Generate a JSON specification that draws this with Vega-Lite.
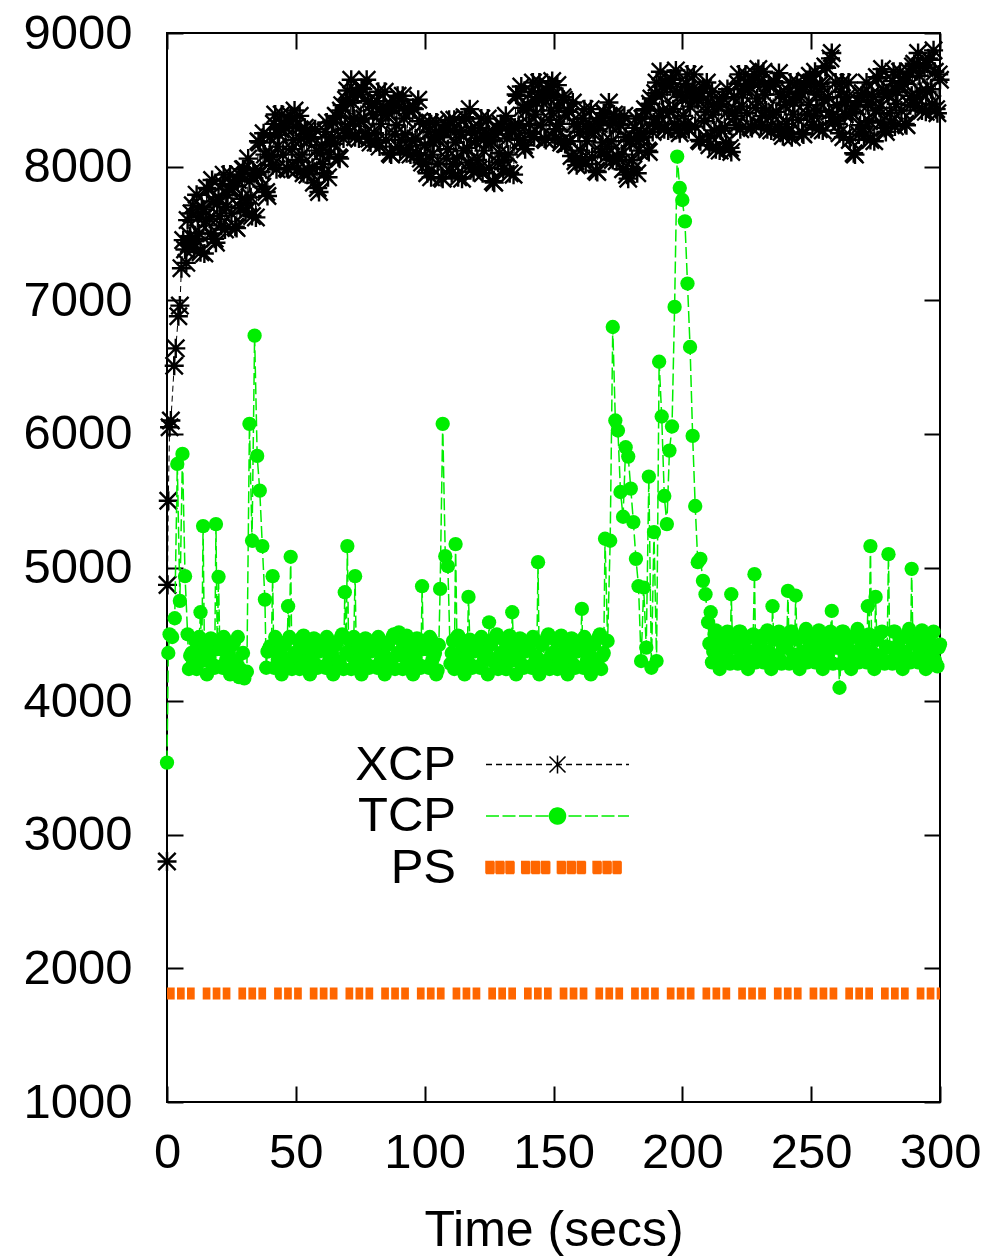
{
 "$schema": "https://vega.github.io/schema/vega-lite/v6.json",
 "width": 773,
 "height": 1069,
 "autosize": "none",
 "padding": {"left": 167, "top": 33, "right": 64, "bottom": 155},
 "background": "white",
 "config": {
  "font": "Liberation Sans",
  "view": {"stroke": "#000000", "strokeWidth": 2},
  "axis": {"grid": false, "domain": false, "ticks": true, "tickColor": "#000000", "tickWidth": 2, "tickSize": -16, "labelColor": "#000000", "labelFontSize": 49, "labelFont": "Liberation Sans", "labelFlush": false, "format": "d", "titleFont": "Liberation Sans", "titleFontSize": 50, "titleFontWeight": "normal", "titleColor": "#000000"},
  "legend": {"orient": "none", "legendX": 366, "legendY": 707, "labelFontSize": 49, "labelFont": "Liberation Sans", "labelColor": "#000000", "labelAlign": "right", "labelOffset": -126, "symbolSize": 400, "rowPadding": 1.5, "padding": 0}
 },
 "datasets": {
  "ps": [{"t": 0, "v": 1812}, {"t": 300, "v": 1812}],
  "xcp": [
   {"t":0,"v":2800},{"t":0.2,"v":4870},{"t":0.5,"v":5500},{"t":1,"v":6050},{"t":1.5,"v":6100},{"t":2.8,"v":6510},{"t":3.4,"v":6640},{"t":4.4,"v":6880},{"t":5,"v":6960},{"t":5.6,"v":7240},{"t":6.3,"v":7450},{"t":7,"v":7380},{"t":7.5,"v":7280},{"t":8,"v":7600},{"t":8.5,"v":7420},{"t":9,"v":7480},{"t":9.5,"v":7650},
   {"t":10,"v":7710},{"t":11,"v":7460},{"t":12,"v":7620},{"t":13,"v":7360},{"t":14,"v":7680},
   {"t":15,"v":7590},{"t":16,"v":7830},{"t":17,"v":7500},{"t":18,"v":7740},{"t":19,"v":7430},
   {"t":20,"v":7770},{"t":21,"v":7560},{"t":22,"v":7940},{"t":23,"v":7700},{"t":24,"v":7830},
   {"t":25,"v":7650},{"t":26,"v":7850},{"t":27,"v":7540},{"t":28,"v":7940},{"t":29,"v":7760},
   {"t":30,"v":7980},{"t":31,"v":7730},{"t":32,"v":7890},{"t":33,"v":7630},{"t":34,"v":7950},
   {"t":35,"v":7940},{"t":36,"v":8180},{"t":37,"v":7850},{"t":38,"v":8090},{"t":39,"v":7780},
   {"t":40,"v":8220},{"t":41,"v":8010},{"t":42,"v":8390},{"t":43,"v":8150},{"t":44,"v":8280},
   {"t":45,"v":8090},{"t":46,"v":8290},{"t":47,"v":7980},{"t":48,"v":8380},{"t":49,"v":8200},
   {"t":50,"v":8300},{"t":51,"v":8050},{"t":52,"v":8210},{"t":53,"v":7950},{"t":54,"v":8270},
   {"t":55,"v":7970},{"t":56,"v":8210},{"t":57,"v":7880},{"t":58,"v":8120},{"t":59,"v":7810},
   {"t":60,"v":8160},{"t":61,"v":7950},{"t":62,"v":8330},{"t":63,"v":8090},{"t":64,"v":8220},
   {"t":65,"v":8170},{"t":66,"v":8370},{"t":67,"v":8060},{"t":68,"v":8460},{"t":69,"v":8280},
   {"t":70,"v":8570},{"t":71,"v":8320},{"t":72,"v":8480},{"t":73,"v":8220},{"t":74,"v":8540},
   {"t":75,"v":8340},{"t":76,"v":8580},{"t":77,"v":8250},{"t":78,"v":8490},{"t":79,"v":8180},
   {"t":80,"v":8390},{"t":81,"v":8180},{"t":82,"v":8560},{"t":83,"v":8320},{"t":84,"v":8450},
   {"t":85,"v":8200},{"t":86,"v":8400},{"t":87,"v":8090},{"t":88,"v":8490},{"t":89,"v":8310},
   {"t":90,"v":8450},{"t":91,"v":8200},{"t":92,"v":8360},{"t":93,"v":8100},{"t":94,"v":8420},
   {"t":95,"v":8190},{"t":96,"v":8430},{"t":97,"v":8100},{"t":98,"v":8340},{"t":99,"v":8030},
   {"t":100,"v":8160},{"t":101,"v":7950},{"t":102,"v":8330},{"t":103,"v":8090},{"t":104,"v":8220},
   {"t":105,"v":8020},{"t":106,"v":8220},{"t":107,"v":7910},{"t":108,"v":8310},{"t":109,"v":8130},
   {"t":110,"v":8270},{"t":111,"v":8020},{"t":112,"v":8180},{"t":113,"v":7920},{"t":114,"v":8240},
   {"t":115,"v":8120},{"t":116,"v":8360},{"t":117,"v":8030},{"t":118,"v":8270},{"t":119,"v":7960},
   {"t":120,"v":8190},{"t":121,"v":7980},{"t":122,"v":8360},{"t":123,"v":8120},{"t":124,"v":8250},
   {"t":125,"v":7990},{"t":126,"v":8190},{"t":127,"v":7880},{"t":128,"v":8280},{"t":129,"v":8100},
   {"t":130,"v":8300},{"t":131,"v":8050},{"t":132,"v":8210},{"t":133,"v":7950},{"t":134,"v":8270},
   {"t":135,"v":8290},{"t":136,"v":8530},{"t":137,"v":8200},{"t":138,"v":8440},{"t":139,"v":8130},
   {"t":140,"v":8460},{"t":141,"v":8250},{"t":142,"v":8630},{"t":143,"v":8390},{"t":144,"v":8520},
   {"t":145,"v":8310},{"t":146,"v":8510},{"t":147,"v":8200},{"t":148,"v":8600},{"t":149,"v":8420},
   {"t":150,"v":8530},{"t":151,"v":8280},{"t":152,"v":8440},{"t":153,"v":8180},{"t":154,"v":8500},
   {"t":155,"v":8170},{"t":156,"v":8410},{"t":157,"v":8080},{"t":158,"v":8320},{"t":159,"v":8010},
   {"t":160,"v":8260},{"t":161,"v":8050},{"t":162,"v":8430},{"t":163,"v":8190},{"t":164,"v":8320},
   {"t":165,"v":8070},{"t":166,"v":8270},{"t":167,"v":7960},{"t":168,"v":8360},{"t":169,"v":8180},
   {"t":170,"v":8400},{"t":171,"v":8150},{"t":172,"v":8310},{"t":173,"v":8050},{"t":174,"v":8370},
   {"t":175,"v":8070},{"t":176,"v":8310},{"t":177,"v":7980},{"t":178,"v":8220},{"t":179,"v":7910},
   {"t":180,"v":8190},{"t":181,"v":7980},{"t":182,"v":8360},{"t":183,"v":8120},{"t":184,"v":8250},
   {"t":185,"v":8220},{"t":186,"v":8420},{"t":187,"v":8110},{"t":188,"v":8510},{"t":189,"v":8330},
   {"t":190,"v":8630},{"t":191,"v":8380},{"t":192,"v":8540},{"t":193,"v":8280},{"t":194,"v":8600},
   {"t":195,"v":8410},{"t":196,"v":8650},{"t":197,"v":8320},{"t":198,"v":8560},{"t":199,"v":8250},
   {"t":200,"v":8520},{"t":201,"v":8310},{"t":202,"v":8690},{"t":203,"v":8450},{"t":204,"v":8580},
   {"t":205,"v":8300},{"t":206,"v":8500},{"t":207,"v":8190},{"t":208,"v":8590},{"t":209,"v":8410},
   {"t":210,"v":8480},{"t":211,"v":8230},{"t":212,"v":8390},{"t":213,"v":8130},{"t":214,"v":8450},
   {"t":215,"v":8270},{"t":216,"v":8510},{"t":217,"v":8180},{"t":218,"v":8420},{"t":219,"v":8110},
   {"t":220,"v":8520},{"t":221,"v":8310},{"t":222,"v":8690},{"t":223,"v":8450},{"t":224,"v":8580},
   {"t":225,"v":8400},{"t":226,"v":8600},{"t":227,"v":8290},{"t":228,"v":8690},{"t":229,"v":8510},
   {"t":230,"v":8630},{"t":231,"v":8380},{"t":232,"v":8540},{"t":233,"v":8280},{"t":234,"v":8600},
   {"t":235,"v":8390},{"t":236,"v":8630},{"t":237,"v":8300},{"t":238,"v":8540},{"t":239,"v":8230},
   {"t":240,"v":8460},{"t":241,"v":8250},{"t":242,"v":8630},{"t":243,"v":8390},{"t":244,"v":8520},
   {"t":245,"v":8350},{"t":246,"v":8550},{"t":247,"v":8240},{"t":248,"v":8640},{"t":249,"v":8460},
   {"t":250,"v":8630},{"t":251,"v":8380},{"t":252,"v":8540},{"t":253,"v":8280},{"t":254,"v":8600},
   {"t":255,"v":8500},{"t":256,"v":8740},{"t":257,"v":8410},{"t":258,"v":8850},{"t":259,"v":8340},
   {"t":260,"v":8460},{"t":261,"v":8250},{"t":262,"v":8630},{"t":263,"v":8390},{"t":264,"v":8520},
   {"t":265,"v":8200},{"t":266,"v":8400},{"t":267,"v":8090},{"t":268,"v":8490},{"t":269,"v":8310},
   {"t":270,"v":8550},{"t":271,"v":8300},{"t":272,"v":8460},{"t":273,"v":8200},{"t":274,"v":8520},
   {"t":275,"v":8420},{"t":276,"v":8660},{"t":277,"v":8330},{"t":278,"v":8570},{"t":279,"v":8260},
   {"t":280,"v":8540},{"t":281,"v":8330},{"t":282,"v":8710},{"t":283,"v":8470},{"t":284,"v":8600},
   {"t":285,"v":8420},{"t":286,"v":8620},{"t":287,"v":8310},{"t":288,"v":8710},{"t":289,"v":8530},
   {"t":290,"v":8770},{"t":291,"v":8520},{"t":292,"v":8680},{"t":293,"v":8420},{"t":294,"v":8740},
   {"t":295,"v":8560},{"t":296,"v":8800},{"t":297,"v":8470},{"t":298,"v":8710},{"t":299,"v":8400},{"t":300,"v":8650},
   {"t":10.5,"v":7390},{"t":11.5,"v":7790},{"t":12.5,"v":7500},{"t":13.5,"v":7700},{"t":14.5,"v":7350},
   {"t":15.5,"v":7840},{"t":16.5,"v":7610},{"t":17.5,"v":7900},{"t":18.5,"v":7460},{"t":19.5,"v":7720},
   {"t":20.5,"v":7630},{"t":21.5,"v":7870},{"t":22.5,"v":7530},{"t":23.5,"v":7790},{"t":24.5,"v":7940},
   {"t":25.5,"v":7860},{"t":26.5,"v":7550},{"t":27.5,"v":7900},{"t":28.5,"v":7690},{"t":29.5,"v":7980},
   {"t":30.5,"v":7660},{"t":31.5,"v":8060},{"t":32.5,"v":7770},{"t":33.5,"v":7970},{"t":34.5,"v":7620},
   {"t":35.5,"v":8190},{"t":36.5,"v":7960},{"t":37.5,"v":8250},{"t":38.5,"v":7810},{"t":39.5,"v":8070},
   {"t":40.5,"v":8080},{"t":41.5,"v":8320},{"t":42.5,"v":7980},{"t":43.5,"v":8240},{"t":44.5,"v":8390},
   {"t":45.5,"v":8300},{"t":46.5,"v":7990},{"t":47.5,"v":8340},{"t":48.5,"v":8130},{"t":49.5,"v":8420},
   {"t":50.5,"v":7980},{"t":51.5,"v":8380},{"t":52.5,"v":8090},{"t":53.5,"v":8290},{"t":54.5,"v":7940},
   {"t":55.5,"v":8220},{"t":56.5,"v":7990},{"t":57.5,"v":8280},{"t":58.5,"v":7840},{"t":59.5,"v":8100},
   {"t":60.5,"v":8020},{"t":61.5,"v":8260},{"t":62.5,"v":7920},{"t":63.5,"v":8180},{"t":64.5,"v":8330},
   {"t":65.5,"v":8380},{"t":66.5,"v":8070},{"t":67.5,"v":8420},{"t":68.5,"v":8210},{"t":69.5,"v":8500},
   {"t":70.5,"v":8250},{"t":71.5,"v":8650},{"t":72.5,"v":8360},{"t":73.5,"v":8560},{"t":74.5,"v":8210},
   {"t":75.5,"v":8590},{"t":76.5,"v":8360},{"t":77.5,"v":8650},{"t":78.5,"v":8210},{"t":79.5,"v":8470},
   {"t":80.5,"v":8250},{"t":81.5,"v":8490},{"t":82.5,"v":8150},{"t":83.5,"v":8410},{"t":84.5,"v":8560},
   {"t":85.5,"v":8410},{"t":86.5,"v":8100},{"t":87.5,"v":8450},{"t":88.5,"v":8240},{"t":89.5,"v":8530},
   {"t":90.5,"v":8130},{"t":91.5,"v":8530},{"t":92.5,"v":8240},{"t":93.5,"v":8440},{"t":94.5,"v":8090},
   {"t":95.5,"v":8440},{"t":96.5,"v":8210},{"t":97.5,"v":8500},{"t":98.5,"v":8060},{"t":99.5,"v":8320},
   {"t":100.5,"v":8020},{"t":101.5,"v":8260},{"t":102.5,"v":7920},{"t":103.5,"v":8180},{"t":104.5,"v":8330},
   {"t":105.5,"v":8230},{"t":106.5,"v":7920},{"t":107.5,"v":8270},{"t":108.5,"v":8060},{"t":109.5,"v":8350},
   {"t":110.5,"v":7950},{"t":111.5,"v":8350},{"t":112.5,"v":8060},{"t":113.5,"v":8260},{"t":114.5,"v":7910},
   {"t":115.5,"v":8370},{"t":116.5,"v":8140},{"t":117.5,"v":8430},{"t":118.5,"v":7990},{"t":119.5,"v":8250},
   {"t":120.5,"v":8050},{"t":121.5,"v":8290},{"t":122.5,"v":7950},{"t":123.5,"v":8210},{"t":124.5,"v":8360},
   {"t":125.5,"v":8200},{"t":126.5,"v":7890},{"t":127.5,"v":8240},{"t":128.5,"v":8030},{"t":129.5,"v":8320},
   {"t":130.5,"v":7980},{"t":131.5,"v":8380},{"t":132.5,"v":8090},{"t":133.5,"v":8290},{"t":134.5,"v":7940},
   {"t":135.5,"v":8540},{"t":136.5,"v":8310},{"t":137.5,"v":8600},{"t":138.5,"v":8160},{"t":139.5,"v":8420},
   {"t":140.5,"v":8320},{"t":141.5,"v":8560},{"t":142.5,"v":8220},{"t":143.5,"v":8480},{"t":144.5,"v":8630},
   {"t":145.5,"v":8520},{"t":146.5,"v":8210},{"t":147.5,"v":8560},{"t":148.5,"v":8350},{"t":149.5,"v":8640},
   {"t":150.5,"v":8210},{"t":151.5,"v":8610},{"t":152.5,"v":8320},{"t":153.5,"v":8520},{"t":154.5,"v":8170},
   {"t":155.5,"v":8420},{"t":156.5,"v":8190},{"t":157.5,"v":8480},{"t":158.5,"v":8040},{"t":159.5,"v":8300},
   {"t":160.5,"v":8120},{"t":161.5,"v":8360},{"t":162.5,"v":8020},{"t":163.5,"v":8280},{"t":164.5,"v":8430},
   {"t":165.5,"v":8280},{"t":166.5,"v":7970},{"t":167.5,"v":8320},{"t":168.5,"v":8110},{"t":169.5,"v":8400},
   {"t":170.5,"v":8080},{"t":171.5,"v":8480},{"t":172.5,"v":8190},{"t":173.5,"v":8390},{"t":174.5,"v":8040},
   {"t":175.5,"v":8320},{"t":176.5,"v":8090},{"t":177.5,"v":8380},{"t":178.5,"v":7940},{"t":179.5,"v":8200},
   {"t":180.5,"v":8050},{"t":181.5,"v":8290},{"t":182.5,"v":7950},{"t":183.5,"v":8210},{"t":184.5,"v":8360},
   {"t":185.5,"v":8430},{"t":186.5,"v":8120},{"t":187.5,"v":8470},{"t":188.5,"v":8260},{"t":189.5,"v":8550},
   {"t":190.5,"v":8310},{"t":191.5,"v":8710},{"t":192.5,"v":8420},{"t":193.5,"v":8620},{"t":194.5,"v":8270},
   {"t":195.5,"v":8660},{"t":196.5,"v":8430},{"t":197.5,"v":8720},{"t":198.5,"v":8280},{"t":199.5,"v":8540},
   {"t":200.5,"v":8380},{"t":201.5,"v":8620},{"t":202.5,"v":8280},{"t":203.5,"v":8540},{"t":204.5,"v":8690},
   {"t":205.5,"v":8510},{"t":206.5,"v":8200},{"t":207.5,"v":8550},{"t":208.5,"v":8340},{"t":209.5,"v":8630},
   {"t":210.5,"v":8160},{"t":211.5,"v":8560},{"t":212.5,"v":8270},{"t":213.5,"v":8470},{"t":214.5,"v":8120},
   {"t":215.5,"v":8520},{"t":216.5,"v":8290},{"t":217.5,"v":8580},{"t":218.5,"v":8140},{"t":219.5,"v":8400},
   {"t":220.5,"v":8380},{"t":221.5,"v":8620},{"t":222.5,"v":8280},{"t":223.5,"v":8540},{"t":224.5,"v":8690},
   {"t":225.5,"v":8610},{"t":226.5,"v":8300},{"t":227.5,"v":8650},{"t":228.5,"v":8440},{"t":229.5,"v":8730},
   {"t":230.5,"v":8310},{"t":231.5,"v":8710},{"t":232.5,"v":8420},{"t":233.5,"v":8620},{"t":234.5,"v":8270},
   {"t":235.5,"v":8640},{"t":236.5,"v":8410},{"t":237.5,"v":8700},{"t":238.5,"v":8260},{"t":239.5,"v":8520},
   {"t":240.5,"v":8320},{"t":241.5,"v":8560},{"t":242.5,"v":8220},{"t":243.5,"v":8480},{"t":244.5,"v":8630},
   {"t":245.5,"v":8560},{"t":246.5,"v":8250},{"t":247.5,"v":8600},{"t":248.5,"v":8390},{"t":249.5,"v":8680},
   {"t":250.5,"v":8310},{"t":251.5,"v":8710},{"t":252.5,"v":8420},{"t":253.5,"v":8620},{"t":254.5,"v":8270},
   {"t":255.5,"v":8750},{"t":256.5,"v":8520},{"t":257.5,"v":8810},{"t":258.5,"v":8370},{"t":259.5,"v":8630},
   {"t":260.5,"v":8320},{"t":261.5,"v":8560},{"t":262.5,"v":8220},{"t":263.5,"v":8480},{"t":264.5,"v":8630},
   {"t":265.5,"v":8410},{"t":266.5,"v":8100},{"t":267.5,"v":8450},{"t":268.5,"v":8240},{"t":269.5,"v":8530},
   {"t":270.5,"v":8230},{"t":271.5,"v":8630},{"t":272.5,"v":8340},{"t":273.5,"v":8540},{"t":274.5,"v":8190},
   {"t":275.5,"v":8670},{"t":276.5,"v":8440},{"t":277.5,"v":8730},{"t":278.5,"v":8290},{"t":279.5,"v":8550},
   {"t":280.5,"v":8400},{"t":281.5,"v":8640},{"t":282.5,"v":8300},{"t":283.5,"v":8560},{"t":284.5,"v":8710},
   {"t":285.5,"v":8630},{"t":286.5,"v":8320},{"t":287.5,"v":8670},{"t":288.5,"v":8460},{"t":289.5,"v":8750},
   {"t":290.5,"v":8450},{"t":291.5,"v":8850},{"t":292.5,"v":8560},{"t":293.5,"v":8760},{"t":294.5,"v":8410},
   {"t":295.5,"v":8810},{"t":296.5,"v":8580},{"t":297.5,"v":8870},{"t":298.5,"v":8430},{"t":299.5,"v":8690}
  ],
  "tcp": [
   {"t":0,"v":3540},{"t":0.5,"v":4360},{"t":1,"v":4500},{"t":2,"v":4480},{"t":3,"v":4620},{"t":4,"v":5775},{"t":5,"v":4750},{"t":6,"v":5850},{"t":7,"v":4935},{"t":8,"v":4500},{"t":9,"v":4340},
   {"t":10,"v":4280},{"t":11,"v":4450},{"t":12,"v":4330},{"t":13,"v":4665},{"t":14,"v":5310},{"t":15,"v":4380},{"t":16,"v":4300},{"t":17,"v":4470},{"t":18,"v":4270},{"t":19,"v":5325},
   {"t":20,"v":4930},{"t":21,"v":4260},{"t":22,"v":4480},{"t":23,"v":4310},{"t":24,"v":4360},{"t":25,"v":4230},{"t":26,"v":4440},{"t":27,"v":4290},{"t":28,"v":4180},{"t":29,"v":4200},
   {"t":30,"v":4170},{"t":31,"v":4220},{"t":32,"v":6075},{"t":33,"v":5200},{"t":34,"v":6735},{"t":35,"v":5835},{"t":36,"v":5575},{"t":37,"v":5160},{"t":38,"v":4760},{"t":39,"v":4370},
   {"t":40,"v":4410},{"t":41,"v":4935},{"t":42,"v":4480},{"t":43,"v":4310},{"t":44,"v":4360},{"t":45,"v":4230},{"t":46,"v":4440},{"t":47,"v":4710},{"t":48,"v":5080},{"t":49,"v":4340},
   {"t":50,"v":4280},{"t":51,"v":4450},{"t":52,"v":4330},{"t":53,"v":4490},{"t":54,"v":4240},{"t":55,"v":4380},{"t":56,"v":4300},{"t":57,"v":4470},{"t":58,"v":4270},{"t":59,"v":4370},
   {"t":60,"v":4410},{"t":61,"v":4260},{"t":62,"v":4480},{"t":63,"v":4310},{"t":64,"v":4360},{"t":65,"v":4230},{"t":66,"v":4440},{"t":67,"v":4290},{"t":68,"v":4500},{"t":69,"v":4815},
   {"t":70,"v":5160},{"t":71,"v":4450},{"t":72,"v":4330},{"t":73,"v":4935},{"t":74,"v":4240},{"t":75,"v":4380},{"t":76,"v":4300},{"t":77,"v":4470},{"t":78,"v":4270},{"t":79,"v":4370},
   {"t":80,"v":4410},{"t":81,"v":4260},{"t":82,"v":4480},{"t":83,"v":4310},{"t":84,"v":4360},{"t":85,"v":4230},{"t":86,"v":4440},{"t":87,"v":4290},{"t":88,"v":4500},{"t":89,"v":4340},
   {"t":90,"v":4515},{"t":91,"v":4450},{"t":92,"v":4330},{"t":93,"v":4490},{"t":94,"v":4240},{"t":95,"v":4380},{"t":96,"v":4300},{"t":97,"v":4470},{"t":98,"v":4270},{"t":99,"v":4860},
   {"t":100,"v":4410},{"t":101,"v":4260},{"t":102,"v":4480},{"t":103,"v":4310},{"t":104,"v":4360},{"t":105,"v":4230},{"t":106,"v":4840},{"t":107,"v":6075},{"t":108,"v":5085},{"t":109,"v":5010},
   {"t":110,"v":4280},{"t":111,"v":4450},{"t":112,"v":5175},{"t":113,"v":4490},{"t":114,"v":4240},{"t":115,"v":4380},{"t":116,"v":4300},{"t":117,"v":4780},{"t":118,"v":4270},{"t":119,"v":4370},
   {"t":120,"v":4410},{"t":121,"v":4260},{"t":122,"v":4480},{"t":123,"v":4310},{"t":124,"v":4360},{"t":125,"v":4590},{"t":126,"v":4440},{"t":127,"v":4290},{"t":128,"v":4500},{"t":129,"v":4340},
   {"t":130,"v":4280},{"t":131,"v":4450},{"t":132,"v":4330},{"t":133,"v":4490},{"t":134,"v":4665},{"t":135,"v":4380},{"t":136,"v":4300},{"t":137,"v":4470},{"t":138,"v":4270},{"t":139,"v":4370},
   {"t":140,"v":4410},{"t":141,"v":4260},{"t":142,"v":4480},{"t":143,"v":4310},{"t":144,"v":5040},{"t":145,"v":4230},{"t":146,"v":4440},{"t":147,"v":4290},{"t":148,"v":4500},{"t":149,"v":4340},
   {"t":150,"v":4280},{"t":151,"v":4450},{"t":152,"v":4330},{"t":153,"v":4490},{"t":154,"v":4240},{"t":155,"v":4380},{"t":156,"v":4300},{"t":157,"v":4470},{"t":158,"v":4270},{"t":159,"v":4370},
   {"t":160,"v":4410},{"t":161,"v":4690},{"t":162,"v":4480},{"t":163,"v":4310},{"t":164,"v":4360},{"t":165,"v":4230},{"t":166,"v":4440},{"t":167,"v":4290},{"t":168,"v":4500},{"t":169,"v":4340},
   {"t":170,"v":5215},{"t":171,"v":4450},{"t":172,"v":5200},{"t":173,"v":6800},{"t":174,"v":6100},{"t":175,"v":6025},{"t":176,"v":5565},{"t":177,"v":5380},{"t":178,"v":5900},{"t":179,"v":5830},
   {"t":180,"v":5590},{"t":181,"v":5340},{"t":182,"v":5065},{"t":183,"v":4860},{"t":184,"v":4300},{"t":185,"v":4850},{"t":186,"v":4400},{"t":187,"v":5680},{"t":188,"v":4250},{"t":189,"v":5265},
   {"t":190,"v":4300},{"t":191,"v":6540},{"t":192,"v":6130},{"t":193,"v":5535},{"t":194,"v":5325},{"t":195,"v":5875},{"t":196,"v":6055},{"t":197,"v":6950},{"t":198,"v":8075},{"t":199,"v":7840},
   {"t":200,"v":7750},{"t":201,"v":7590},{"t":202,"v":7125},{"t":203,"v":6650},{"t":204,"v":5985},{"t":205,"v":5460},{"t":206,"v":5040},{"t":207,"v":5065},{"t":208,"v":4900},{"t":209,"v":4800},
   {"t":210,"v":4590},{"t":211,"v":4665},{"t":212,"v":4370},{"t":213,"v":4530},{"t":214,"v":4280},{"t":215,"v":4420},{"t":216,"v":4340},{"t":217,"v":4510},{"t":218,"v":4310},{"t":219,"v":4800},
   {"t":220,"v":4450},{"t":221,"v":4300},{"t":222,"v":4520},{"t":223,"v":4350},{"t":224,"v":4400},{"t":225,"v":4270},{"t":226,"v":4480},{"t":227,"v":4330},{"t":228,"v":4950},{"t":229,"v":4380},
   {"t":230,"v":4320},{"t":231,"v":4490},{"t":232,"v":4370},{"t":233,"v":4530},{"t":234,"v":4280},{"t":235,"v":4710},{"t":236,"v":4340},{"t":237,"v":4510},{"t":238,"v":4310},{"t":239,"v":4410},
   {"t":240,"v":4450},{"t":241,"v":4825},{"t":242,"v":4520},{"t":243,"v":4350},{"t":244,"v":4790},{"t":245,"v":4270},{"t":246,"v":4480},{"t":247,"v":4330},{"t":248,"v":4540},{"t":249,"v":4380},
   {"t":250,"v":4320},{"t":251,"v":4490},{"t":252,"v":4370},{"t":253,"v":4530},{"t":254,"v":4280},{"t":255,"v":4420},{"t":256,"v":4340},{"t":257,"v":4510},{"t":258,"v":4675},{"t":259,"v":4410},
   {"t":260,"v":4450},{"t":261,"v":4100},{"t":262,"v":4520},{"t":263,"v":4350},{"t":264,"v":4400},{"t":265,"v":4270},{"t":266,"v":4480},{"t":267,"v":4330},{"t":268,"v":4540},{"t":269,"v":4380},
   {"t":270,"v":4320},{"t":271,"v":4490},{"t":272,"v":4710},{"t":273,"v":5160},{"t":274,"v":4280},{"t":275,"v":4780},{"t":276,"v":4340},{"t":277,"v":4510},{"t":278,"v":4310},{"t":279,"v":4410},
   {"t":280,"v":5100},{"t":281,"v":4300},{"t":282,"v":4520},{"t":283,"v":4350},{"t":284,"v":4400},{"t":285,"v":4270},{"t":286,"v":4480},{"t":287,"v":4330},{"t":288,"v":4540},{"t":289,"v":4990},
   {"t":290,"v":4320},{"t":291,"v":4490},{"t":292,"v":4370},{"t":293,"v":4530},{"t":294,"v":4280},{"t":295,"v":4420},{"t":296,"v":4340},{"t":297,"v":4510},{"t":298,"v":4310},{"t":299,"v":4260},{"t":300,"v":4425},
   {"t":8.5,"v":4240},{"t":9.5,"v":4360},
   {"t":10.5,"v":4360},{"t":11.5,"v":4240},{"t":12.5,"v":4480},{"t":13.5,"v":4300},{"t":14.5,"v":4420},{"t":15.5,"v":4200},{"t":16.5,"v":4330},{"t":17.5,"v":4460},{"t":18.5,"v":4250},{"t":19.5,"v":4390},
   {"t":20.5,"v":4390},{"t":21.5,"v":4250},{"t":22.5,"v":4460},{"t":23.5,"v":4330},{"t":24.5,"v":4200},{"t":25.5,"v":4420},{"t":26.5,"v":4300},{"t":27.5,"v":4480},{"t":28.5,"v":4240},{"t":29.5,"v":4360},
   {"t":38.5,"v":4250},{"t":39.5,"v":4390},
   {"t":40.5,"v":4390},{"t":41.5,"v":4250},{"t":42.5,"v":4460},{"t":43.5,"v":4330},{"t":44.5,"v":4200},{"t":45.5,"v":4420},{"t":46.5,"v":4300},{"t":47.5,"v":4480},{"t":48.5,"v":4240},{"t":49.5,"v":4360},
   {"t":50.5,"v":4360},{"t":51.5,"v":4240},{"t":52.5,"v":4480},{"t":53.5,"v":4300},{"t":54.5,"v":4420},{"t":55.5,"v":4200},{"t":56.5,"v":4330},{"t":57.5,"v":4460},{"t":58.5,"v":4250},{"t":59.5,"v":4390},
   {"t":60.5,"v":4390},{"t":61.5,"v":4250},{"t":62.5,"v":4460},{"t":63.5,"v":4330},{"t":64.5,"v":4200},{"t":65.5,"v":4420},{"t":66.5,"v":4300},{"t":67.5,"v":4480},{"t":68.5,"v":4240},{"t":69.5,"v":4360},
   {"t":70.5,"v":4360},{"t":71.5,"v":4240},{"t":72.5,"v":4480},{"t":73.5,"v":4300},{"t":74.5,"v":4420},{"t":75.5,"v":4200},{"t":76.5,"v":4330},{"t":77.5,"v":4460},{"t":78.5,"v":4250},{"t":79.5,"v":4390},
   {"t":80.5,"v":4390},{"t":81.5,"v":4250},{"t":82.5,"v":4460},{"t":83.5,"v":4330},{"t":84.5,"v":4200},{"t":85.5,"v":4420},{"t":86.5,"v":4300},{"t":87.5,"v":4480},{"t":88.5,"v":4240},{"t":89.5,"v":4360},
   {"t":90.5,"v":4360},{"t":91.5,"v":4240},{"t":92.5,"v":4480},{"t":93.5,"v":4300},{"t":94.5,"v":4420},{"t":95.5,"v":4200},{"t":96.5,"v":4330},{"t":97.5,"v":4460},{"t":98.5,"v":4250},{"t":99.5,"v":4390},
   {"t":100.5,"v":4390},{"t":101.5,"v":4250},{"t":102.5,"v":4460},{"t":103.5,"v":4330},{"t":104.5,"v":4200},{"t":105.5,"v":4420},
   {"t":110.5,"v":4360},{"t":111.5,"v":4240},{"t":112.5,"v":4480},{"t":113.5,"v":4300},{"t":114.5,"v":4420},{"t":115.5,"v":4200},{"t":116.5,"v":4330},{"t":117.5,"v":4460},{"t":118.5,"v":4250},{"t":119.5,"v":4390},
   {"t":120.5,"v":4390},{"t":121.5,"v":4250},{"t":122.5,"v":4460},{"t":123.5,"v":4330},{"t":124.5,"v":4200},{"t":125.5,"v":4420},{"t":126.5,"v":4300},{"t":127.5,"v":4480},{"t":128.5,"v":4240},{"t":129.5,"v":4360},
   {"t":130.5,"v":4360},{"t":131.5,"v":4240},{"t":132.5,"v":4480},{"t":133.5,"v":4300},{"t":134.5,"v":4420},{"t":135.5,"v":4200},{"t":136.5,"v":4330},{"t":137.5,"v":4460},{"t":138.5,"v":4250},{"t":139.5,"v":4390},
   {"t":140.5,"v":4390},{"t":141.5,"v":4250},{"t":142.5,"v":4460},{"t":143.5,"v":4330},{"t":144.5,"v":4200},{"t":145.5,"v":4420},{"t":146.5,"v":4300},{"t":147.5,"v":4480},{"t":148.5,"v":4240},{"t":149.5,"v":4360},
   {"t":150.5,"v":4360},{"t":151.5,"v":4240},{"t":152.5,"v":4480},{"t":153.5,"v":4300},{"t":154.5,"v":4420},{"t":155.5,"v":4200},{"t":156.5,"v":4330},{"t":157.5,"v":4460},{"t":158.5,"v":4250},{"t":159.5,"v":4390},
   {"t":160.5,"v":4390},{"t":161.5,"v":4250},{"t":162.5,"v":4460},{"t":163.5,"v":4330},{"t":164.5,"v":4200},{"t":165.5,"v":4420},{"t":166.5,"v":4300},{"t":167.5,"v":4480},{"t":168.5,"v":4240},{"t":169.5,"v":4360},
   {"t":210.5,"v":4430},{"t":211.5,"v":4290},{"t":212.5,"v":4500},{"t":213.5,"v":4370},{"t":214.5,"v":4240},{"t":215.5,"v":4460},{"t":216.5,"v":4340},{"t":217.5,"v":4520},{"t":218.5,"v":4280},{"t":219.5,"v":4400},
   {"t":220.5,"v":4400},{"t":221.5,"v":4280},{"t":222.5,"v":4520},{"t":223.5,"v":4340},{"t":224.5,"v":4460},{"t":225.5,"v":4240},{"t":226.5,"v":4370},{"t":227.5,"v":4500},{"t":228.5,"v":4290},{"t":229.5,"v":4430},
   {"t":230.5,"v":4430},{"t":231.5,"v":4290},{"t":232.5,"v":4500},{"t":233.5,"v":4370},{"t":234.5,"v":4240},{"t":235.5,"v":4460},{"t":236.5,"v":4340},{"t":237.5,"v":4520},{"t":238.5,"v":4280},{"t":239.5,"v":4400},
   {"t":240.5,"v":4400},{"t":241.5,"v":4280},{"t":242.5,"v":4520},{"t":243.5,"v":4340},{"t":244.5,"v":4460},{"t":245.5,"v":4240},{"t":246.5,"v":4370},{"t":247.5,"v":4500},{"t":248.5,"v":4290},{"t":249.5,"v":4430},
   {"t":250.5,"v":4430},{"t":251.5,"v":4290},{"t":252.5,"v":4500},{"t":253.5,"v":4370},{"t":254.5,"v":4240},{"t":255.5,"v":4460},{"t":256.5,"v":4340},{"t":257.5,"v":4520},{"t":258.5,"v":4280},{"t":259.5,"v":4400},
   {"t":260.5,"v":4400},{"t":261.5,"v":4280},{"t":262.5,"v":4520},{"t":263.5,"v":4340},{"t":264.5,"v":4460},{"t":265.5,"v":4240},{"t":266.5,"v":4370},{"t":267.5,"v":4500},{"t":268.5,"v":4290},{"t":269.5,"v":4430},
   {"t":270.5,"v":4430},{"t":271.5,"v":4290},{"t":272.5,"v":4500},{"t":273.5,"v":4370},{"t":274.5,"v":4240},{"t":275.5,"v":4460},{"t":276.5,"v":4340},{"t":277.5,"v":4520},{"t":278.5,"v":4280},{"t":279.5,"v":4400},
   {"t":280.5,"v":4400},{"t":281.5,"v":4280},{"t":282.5,"v":4520},{"t":283.5,"v":4340},{"t":284.5,"v":4460},{"t":285.5,"v":4240},{"t":286.5,"v":4370},{"t":287.5,"v":4500},{"t":288.5,"v":4290},{"t":289.5,"v":4430},
   {"t":290.5,"v":4430},{"t":291.5,"v":4290},{"t":292.5,"v":4500},{"t":293.5,"v":4370},{"t":294.5,"v":4240},{"t":295.5,"v":4460},{"t":296.5,"v":4340},{"t":297.5,"v":4520},{"t":298.5,"v":4280},{"t":299.5,"v":4400}
  ]
 },
 "resolve": {"axis": {"x": "independent", "y": "independent"}},
 "layer": [
  {
   "data": {"name": "xcp"},
   "mark": {"type": "line", "strokeWidth": 1, "strokeDash": [6, 4]},
   "encoding": {
    "x": {"field": "t", "type": "quantitative", "scale": {"domain": [0, 300], "nice": false, "zero": false},
          "axis": {"values": [0, 50, 100, 150, 200, 250, 300], "title": "Time (secs)", "labelPadding": 42, "titlePadding": 28}},
    "y": {"field": "v", "type": "quantitative", "scale": {"domain": [1000, 9000], "nice": false, "zero": false},
          "axis": {"values": [1000, 2000, 3000, 4000, 5000, 6000, 7000, 8000, 9000], "title": null, "labelPadding": 51}},
    "color": {"datum": "XCP", "type": "nominal",
      "scale": {"domain": ["XCP", "TCP", "PS"], "range": ["#000000", "#00ee00", "#ff6600"]},
      "legend": {"title": null,
        "encode": {"symbols": {"update": {
          "shape": {"signal": "datum.value === 'XCP' ? 'M-7.15,0H-6.55M-6.15,0H-5.55M-5.15,0H-4.55M-4.15,0H-3.55M-3.15,0H-2.55M-2.15,0H-1.55M-1.15,0H-0.55M-0.15,0H0.45M0.85,0H1.45M1.85,0H2.45M2.85,0H3.45M3.85,0H4.45M4.85,0H5.45M5.85,0H6.45M6.85,0H7.15M-0.8,-0.8L0.8,0.8M-0.8,0.8L0.8,-0.8M0,-0.9V0.9' : datum.value === 'TCP' ? 'M-7.15,0H-5.85M-5.5,0H-4.2M-3.85,0H-2.55M-2.2,0H-0.9M-0.55,0H0.75M1.1,0H2.4M2.75,0H4.05M4.4,0H5.7M6.05,0H7.15M0.8,0A0.8,0.8,0,1,1,-0.8,0A0.8,0.8,0,1,1,0.8,0Z' : 'M-7.15,-0.6h0.8v1.2h-0.8ZM-6.15,-0.6h0.8v1.2h-0.8ZM-5.15,-0.6h0.8v1.2h-0.8ZM-3.58,-0.6h0.8v1.2h-0.8ZM-2.58,-0.6h0.8v1.2h-0.8ZM-1.58,-0.6h0.8v1.2h-0.8ZM-0.01,-0.6h0.8v1.2h-0.8ZM0.99,-0.6h0.8v1.2h-0.8ZM1.99,-0.6h0.8v1.2h-0.8ZM3.56,-0.6h0.8v1.2h-0.8ZM4.56,-0.6h0.8v1.2h-0.8ZM5.56,-0.6h0.8v1.2h-0.8Z'"},
          "fill": {"signal": "datum.value === 'TCP' ? '#00ee00' : datum.value === 'PS' ? '#ff6600' : 'transparent'"},
          "stroke": {"signal": "datum.value === 'XCP' ? '#000000' : datum.value === 'TCP' ? '#00ee00' : 'transparent'"},
          "strokeWidth": {"value": 1.5},
          "strokeDash": {"value": [1, 0]},
          "size": {"value": 400},
          "opacity": {"value": 1}
        }}}
      }
    }
   }
  },
  {
   "data": {"name": "xcp"},
   "mark": {"type": "point", "shape": "M-1,-1L1,1M-1,1L1,-1M0,-1.1V1.1M-1.1,0H1.1", "size": 300, "filled": false, "strokeWidth": 2.4, "opacity": 1},
   "encoding": {
    "x": {"field": "t", "type": "quantitative", "axis": {"orient": "top", "values": [0, 50, 100, 150, 200, 250, 300], "labels": false, "title": null}},
    "y": {"field": "v", "type": "quantitative", "axis": {"orient": "right", "values": [1000, 2000, 3000, 4000, 5000, 6000, 7000, 8000, 9000], "labels": false, "title": null}},
    "color": {"datum": "XCP", "type": "nominal"}
   }
  },
  {
   "data": {"name": "tcp"},
   "mark": {"type": "line", "strokeWidth": 1.5, "strokeDash": [12, 4]},
   "encoding": {
    "x": {"field": "t", "type": "quantitative", "axis": null},
    "y": {"field": "v", "type": "quantitative", "axis": null},
    "color": {"datum": "TCP", "type": "nominal"}
   }
  },
  {
   "data": {"name": "tcp"},
   "mark": {"type": "point", "shape": "circle", "size": 205, "filled": true, "opacity": 1},
   "encoding": {
    "x": {"field": "t", "type": "quantitative", "axis": null},
    "y": {"field": "v", "type": "quantitative", "axis": null},
    "color": {"datum": "TCP", "type": "nominal"}
   }
  },
  {
   "data": {"name": "ps"},
   "mark": {"type": "line", "strokeWidth": 12, "strokeDash": [7.7, 2.3, 7.7, 2.3, 7.7, 8], "strokeCap": "butt"},
   "encoding": {
    "x": {"field": "t", "type": "quantitative", "axis": null},
    "y": {"field": "v", "type": "quantitative", "axis": null},
    "color": {"datum": "PS", "type": "nominal"}
   }
  }
 ]
}
